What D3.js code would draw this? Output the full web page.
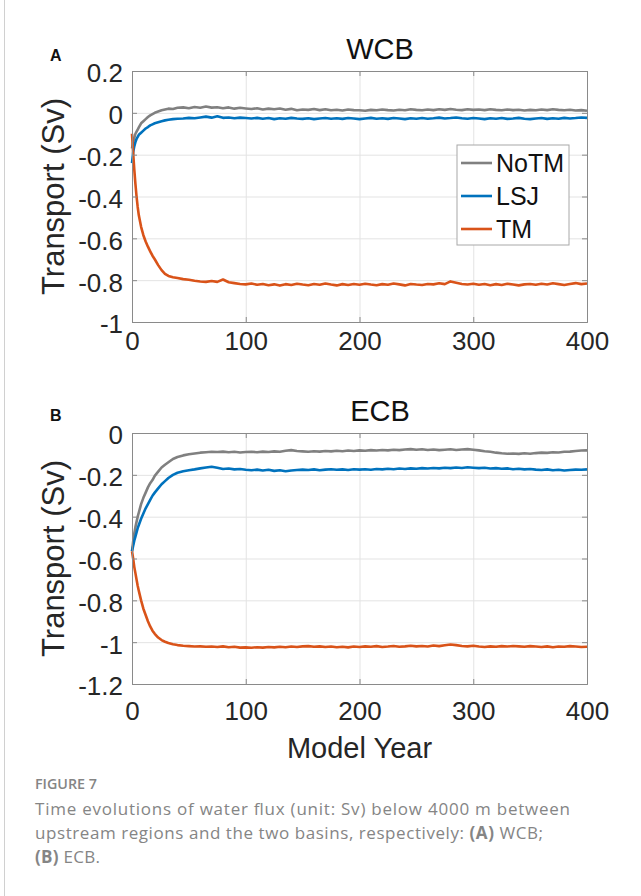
<!DOCTYPE html>
<html>
<head>
<meta charset="utf-8">
<script src="https://cdn.jsdelivr.net/npm/d3@7"></script>
<style>
  body { margin: 0; background: #fff; }
  svg text { font-family: "Liberation Sans", Arial, Helvetica, sans-serif; }
  .cap { font-family: "Open Sans", "Noto Sans", sans-serif !important; fill: #858585; }
</style>
</head>
<body>
<div id="chart"></div>
<script>
// model years (denser at the start where the curves move fast)
const years = [0,1,2,3,4,5,6,8,10,12,14,16,18,20,23,26,29,32,36,40,
  45,50,55,60,65,70,75,80,85,90,95,100,
  105,110,115,120,125,130,135,140,145,150,
  155,160,165,170,175,180,185,190,195,200,
  205,210,215,220,225,230,235,240,245,250,
  255,260,265,270,275,280,285,290,295,300,
  305,310,315,320,325,330,335,340,345,350,
  355,360,365,370,375,380,385,390,395,400]

const seriesNames = ["NoTM", "LSJ", "TM"]
const xTicks = [0, 100, 200, 300, 400]
const wcbTicks = [0.2, 0, -0.2, -0.4, -0.6, -0.8, -1]
const ecbTicks = [0, -0.2, -0.4, -0.6, -0.8, -1, -1.2]

// (A) WCB
const wcbNoTM = [-0.17,-0.14,-0.12,-0.10,-0.09,-0.08,-0.07,-0.05,-0.04,-0.03,-0.02,-0.012,-0.006,0.000,0.006,0.012,0.016,0.020,0.018,0.024,
  0.026,0.022,0.028,0.024,0.030,0.025,0.027,0.022,0.026,0.020,0.024,0.021,
  0.018,0.022,0.016,0.020,0.017,0.021,0.015,0.019,0.012,0.016,
  0.014,0.018,0.013,0.017,0.012,0.015,0.011,0.016,0.013,0.012,
  0.010,0.014,0.012,0.016,0.013,0.011,0.015,0.012,0.017,0.014,
  0.012,0.016,0.013,0.017,0.014,0.018,0.015,0.013,0.017,0.014,
  0.016,0.013,0.017,0.014,0.012,0.016,0.013,0.015,0.011,0.014,
  0.012,0.016,0.013,0.017,0.014,0.012,0.015,0.011,0.013,0.010]
const wcbLSJ = [-0.24,-0.19,-0.16,-0.14,-0.125,-0.115,-0.105,-0.095,-0.085,-0.075,-0.068,-0.06,-0.055,-0.05,-0.045,-0.04,-0.036,-0.033,-0.03,-0.028,
  -0.027,-0.024,-0.026,-0.022,-0.018,-0.023,-0.016,-0.024,-0.022,-0.026,-0.023,-0.025,
  -0.027,-0.024,-0.028,-0.025,-0.030,-0.026,-0.028,-0.024,-0.027,-0.029,
  -0.026,-0.030,-0.027,-0.025,-0.028,-0.026,-0.029,-0.025,-0.027,-0.030,
  -0.027,-0.024,-0.028,-0.026,-0.029,-0.025,-0.027,-0.030,-0.026,-0.028,
  -0.025,-0.028,-0.026,-0.023,-0.027,-0.025,-0.022,-0.026,-0.028,-0.025,
  -0.027,-0.030,-0.026,-0.028,-0.025,-0.029,-0.027,-0.024,-0.028,-0.030,
  -0.027,-0.025,-0.029,-0.026,-0.028,-0.024,-0.027,-0.025,-0.022,-0.024]
const wcbTM = [-0.10,-0.19,-0.27,-0.34,-0.40,-0.45,-0.49,-0.545,-0.585,-0.615,-0.64,-0.662,-0.683,-0.70,-0.728,-0.752,-0.77,-0.78,-0.786,-0.79,
  -0.795,-0.798,-0.803,-0.806,-0.808,-0.804,-0.808,-0.797,-0.810,-0.814,-0.818,-0.820,
  -0.816,-0.822,-0.818,-0.824,-0.820,-0.826,-0.819,-0.823,-0.817,-0.821,
  -0.824,-0.818,-0.822,-0.816,-0.821,-0.825,-0.819,-0.823,-0.818,-0.822,
  -0.817,-0.821,-0.824,-0.819,-0.822,-0.816,-0.820,-0.825,-0.818,-0.821,
  -0.823,-0.818,-0.820,-0.815,-0.819,-0.806,-0.812,-0.818,-0.821,-0.817,
  -0.822,-0.818,-0.824,-0.819,-0.823,-0.817,-0.821,-0.825,-0.820,-0.818,
  -0.822,-0.817,-0.821,-0.815,-0.819,-0.823,-0.818,-0.814,-0.819,-0.816]

// (B) ECB
const ecbNoTM = [-0.565,-0.52,-0.48,-0.45,-0.425,-0.40,-0.38,-0.34,-0.31,-0.285,-0.26,-0.24,-0.225,-0.205,-0.185,-0.165,-0.152,-0.14,-0.124,-0.115,
  -0.107,-0.102,-0.098,-0.094,-0.092,-0.090,-0.091,-0.089,-0.092,-0.090,-0.093,-0.091,
  -0.090,-0.092,-0.089,-0.091,-0.088,-0.090,-0.085,-0.082,-0.086,-0.088,
  -0.090,-0.087,-0.089,-0.086,-0.088,-0.085,-0.087,-0.084,-0.086,-0.083,
  -0.085,-0.082,-0.084,-0.081,-0.083,-0.080,-0.082,-0.079,-0.077,-0.080,
  -0.078,-0.081,-0.079,-0.082,-0.080,-0.078,-0.081,-0.079,-0.077,-0.080,
  -0.083,-0.087,-0.090,-0.094,-0.097,-0.099,-0.098,-0.100,-0.097,-0.099,
  -0.096,-0.094,-0.095,-0.092,-0.093,-0.090,-0.089,-0.086,-0.084,-0.083]
const ecbLSJ = [-0.565,-0.54,-0.515,-0.495,-0.475,-0.455,-0.44,-0.41,-0.385,-0.36,-0.34,-0.32,-0.30,-0.285,-0.265,-0.245,-0.23,-0.215,-0.20,-0.19,
  -0.183,-0.178,-0.174,-0.169,-0.165,-0.161,-0.166,-0.172,-0.170,-0.174,-0.172,-0.176,
  -0.178,-0.175,-0.179,-0.176,-0.181,-0.178,-0.183,-0.179,-0.177,-0.175,
  -0.177,-0.174,-0.178,-0.175,-0.173,-0.176,-0.174,-0.177,-0.173,-0.175,
  -0.173,-0.176,-0.172,-0.174,-0.171,-0.173,-0.170,-0.172,-0.169,-0.171,
  -0.168,-0.170,-0.167,-0.169,-0.166,-0.168,-0.165,-0.167,-0.164,-0.166,
  -0.168,-0.166,-0.170,-0.168,-0.171,-0.169,-0.173,-0.171,-0.174,-0.172,
  -0.175,-0.177,-0.174,-0.178,-0.176,-0.179,-0.177,-0.175,-0.176,-0.174]
const ecbTM = [-0.565,-0.60,-0.64,-0.67,-0.70,-0.73,-0.755,-0.80,-0.84,-0.87,-0.90,-0.925,-0.945,-0.96,-0.978,-0.99,-0.998,-1.004,-1.01,-1.014,
  -1.017,-1.019,-1.021,-1.020,-1.022,-1.021,-1.023,-1.020,-1.024,-1.022,-1.026,-1.025,
  -1.027,-1.024,-1.026,-1.023,-1.025,-1.022,-1.024,-1.021,-1.023,-1.020,
  -1.019,-1.022,-1.020,-1.023,-1.021,-1.024,-1.022,-1.025,-1.021,-1.023,
  -1.020,-1.022,-1.019,-1.023,-1.021,-1.018,-1.022,-1.020,-1.017,-1.020,
  -1.018,-1.021,-1.016,-1.019,-1.015,-1.011,-1.014,-1.018,-1.020,-1.017,
  -1.021,-1.023,-1.020,-1.022,-1.019,-1.021,-1.018,-1.020,-1.022,-1.019,
  -1.021,-1.023,-1.020,-1.024,-1.021,-1.022,-1.019,-1.021,-1.023,-1.022]

const colors = ["#808080", "#0072BD", "#D95319"]

const W = 641, H = 896
const left = 132, right = 587

const svg = d3.select("#chart").append("svg")
  .attr("width", W)
  .attr("height", H)

svg.append("rect").attr("width", W).attr("height", H).attr("fill", "#fff")
// page frame line on the left
svg.append("line").attr("x1", 4.5).attr("x2", 4.5).attr("y1", 0).attr("y2", H)
  .attr("stroke", "#d0d0d0")

const x = d3.scaleLinear().domain([0, 400]).range([left, right])

function drawPanel(p) {
  const y = d3.scaleLinear().domain(p.domain).range([p.bottom, p.top])
  const g = svg.append("g")

  // grid
  g.append("g").attr("transform", "translate(0," + p.bottom + ")")
    .call(d3.axisBottom(x).tickValues(xTicks).tickSize(-(p.bottom - p.top)).tickFormat(""))
    .call(s => s.select(".domain").remove())
    .selectAll("line").attr("stroke", "#e3e3e3")
  g.append("g").attr("transform", "translate(" + left + ",0)")
    .call(d3.axisLeft(y).tickValues(p.ticks).tickSize(-(right - left)).tickFormat(""))
    .call(s => s.select(".domain").remove())
    .selectAll("line").attr("stroke", "#e3e3e3")

  // lines
  const line = d3.line().x(d => x(d[0])).y(d => y(d[1]))
  p.series.forEach((vals, i) => {
    g.append("path")
      .datum(years.map((yr, j) => [yr, vals[j]]))
      .attr("fill", "none")
      .attr("stroke", colors[i])
      .attr("stroke-width", 2.6)
      .attr("stroke-linejoin", "round")
      .attr("d", line)
  })

  // axes (ticks inward, box on)
  const ax = "#8a8a8a"
  const bottomAx = g.append("g").attr("transform", "translate(0," + p.bottom + ")")
    .call(d3.axisBottom(x).tickValues(xTicks).tickSize(-5).tickPadding(p.xPad).tickFormat(d => String(d)))
  const topAx = g.append("g").attr("transform", "translate(0," + p.top + ")")
    .call(d3.axisTop(x).tickValues(xTicks).tickSize(-5).tickFormat(""))
  const leftAx = g.append("g").attr("transform", "translate(" + left + ",0)")
    .call(d3.axisLeft(y).tickValues(p.ticks).tickSize(-5).tickPadding(9).tickFormat(d => String(d)))
  const rightAx = g.append("g").attr("transform", "translate(" + right + ",0)")
    .call(d3.axisRight(y).tickValues(p.ticks).tickSize(-5).tickFormat(""))
  ;[bottomAx, topAx, leftAx, rightAx].forEach(a => {
    a.select(".domain").attr("stroke", ax)
    a.selectAll("line").attr("stroke", ax)
    a.selectAll("text").attr("fill", "#262626").style("font-size", "26px")
  })
  leftAx.selectAll("text").attr("dy", "0.42em")

  // title, panel letter, y label
  svg.append("text").attr("x", 380).attr("y", p.top - 12)
    .attr("text-anchor", "middle").style("font-size", "29px").attr("fill", "#111")
    .text(p.title)
  svg.append("text").attr("x", 50).attr("y", p.letterY)
    .style("font-size", "16px").style("font-weight", "bold").attr("fill", "#111")
    .text(p.letter)
  svg.append("text")
    .attr("transform", "translate(64," + ((p.top + p.bottom) / 2) + ") rotate(-90)")
    .attr("text-anchor", "middle").style("font-size", "31px").attr("fill", "#262626")
    .text("Transport (Sv)")

  if (p.legend) {
    const lg = svg.append("g").attr("transform", "translate(457," + (p.top + 74) + ")")
    lg.append("rect").attr("width", 112).attr("height", 100)
      .attr("fill", "#fff").attr("stroke", "#a8a8a8")
    seriesNames.forEach((n, i) => {
      const yy = 18 + i * 33
      lg.append("line").attr("x1", 4).attr("x2", 35).attr("y1", yy).attr("y2", yy)
        .attr("stroke", colors[i]).attr("stroke-width", 2.6)
      lg.append("text").attr("x", 39).attr("y", yy).attr("dy", "0.36em")
        .style("font-size", "25px").attr("fill", "#111").text(n)
    })
  }
}

drawPanel({ top: 71, bottom: 322, domain: [-1, 0.2], ticks: wcbTicks,
  series: [wcbNoTM, wcbLSJ, wcbTM], title: "WCB", letter: "A", letterY: 61, legend: true, xPad: 10 })
drawPanel({ top: 433, bottom: 684, domain: [-1.2, 0], ticks: ecbTicks,
  series: [ecbNoTM, ecbLSJ, ecbTM], title: "ECB", letter: "B", letterY: 421, legend: false, xPad: 18 })

svg.append("text").attr("x", (left + right) / 2).attr("y", 758)
  .attr("text-anchor", "middle").style("font-size", "29px").attr("fill", "#262626")
  .text("Model Year")

// caption
svg.append("text").attr("class", "cap").attr("x", 35).attr("y", 789)
  .style("font-size", "15px").style("font-weight", "600")
  .attr("textLength", 62).attr("lengthAdjust", "spacingAndGlyphs")
  .text("FIGURE 7")

const capLines = [
  [["Time evolutions of water flux (unit: Sv) below 4000 m between", false]],
  [["upstream regions and the two basins, respectively: ", false], ["(A)", true], [" WCB;", false]],
  [["(B)", true], [" ECB.", false]]
]
const capWidths = [535, 508, 65]
capLines.forEach((parts, i) => {
  const t = svg.append("text").attr("class", "cap").attr("x", 35).attr("y", 815 + i * 24)
    .style("font-size", "17px").attr("textLength", capWidths[i]).attr("lengthAdjust", "spacing")
  parts.forEach(pt => {
    t.append("tspan").style("font-weight", pt[1] ? "700" : "400").text(pt[0])
  })
})
</script>
</body>
</html>
